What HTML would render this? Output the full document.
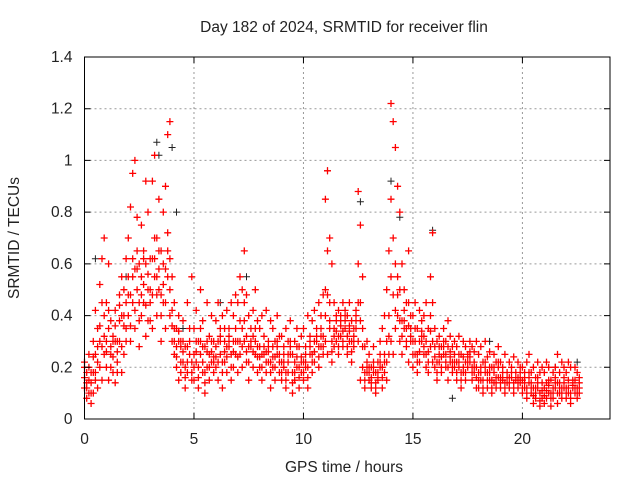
<!DOCTYPE html>
<html><head><meta charset="utf-8"><style>
body{margin:0;background:#fff;}
svg text{font-family:"Liberation Sans",sans-serif;fill:#222;}
</style></head><body>
<svg id="c" width="640" height="480" xmlns="http://www.w3.org/2000/svg">
<rect width="640" height="480" fill="#fff"/>
<text x="344" y="32" font-size="15.5" text-anchor="middle">Day 182 of 2024, SRMTID for receiver flin</text>
<g id="grid"></g>
<g id="marks"></g>
<rect x="84.5" y="57" width="525.5" height="362" fill="none" stroke="#000" stroke-width="1"/>
<g id="ticks"></g>
<text x="344" y="472" font-size="15.5" text-anchor="middle">GPS time / hours</text>
<text transform="translate(19,238) rotate(-90)" font-size="15.5" text-anchor="middle">SRMTID / TECUs</text>
</svg>
<script>
const xTicks=[0,5,10,15,20];
const yTicks=[0,0.2,0.4,0.6,0.8,1,1.2,1.4];
const yTickLabels=["0","0.2","0.4","0.6","0.8","1","1.2","1.4"];
const hours=[0.0,0.1,0.2,0.3,0.4,0.5,0.6,0.7,0.8,0.9,1.0,1.1,1.2,1.3,1.4,1.5,1.6,1.7,1.8,1.9,2.0,2.1,2.2,2.3,2.4,2.5,2.6,2.7,2.8,2.9,3.0,3.1,3.2,3.3,3.4,3.5,3.6,3.7,3.8,3.9,4.0,4.1,4.2,4.3,4.4,4.5,4.6,4.7,4.8,4.9,5.0,5.1,5.2,5.3,5.4,5.5,5.6,5.7,5.8,5.9,6.0,6.1,6.2,6.3,6.4,6.5,6.6,6.7,6.8,6.9,7.0,7.1,7.2,7.3,7.4,7.5,7.6,7.7,7.8,7.9,8.0,8.1,8.2,8.3,8.4,8.5,8.6,8.7,8.8,8.9,9.0,9.1,9.2,9.3,9.4,9.5,9.6,9.7,9.8,9.9,10.0,10.1,10.2,10.3,10.4,10.5,10.6,10.7,10.8,10.9,11.0,11.1,11.2,11.3,11.4,11.5,11.6,11.7,11.8,11.9,12.0,12.1,12.2,12.3,12.4,12.5,12.6,12.7,12.8,12.9,13.0,13.1,13.2,13.3,13.4,13.5,13.6,13.7,13.8,13.9,14.0,14.1,14.2,14.3,14.4,14.5,14.6,14.7,14.8,14.9,15.0,15.1,15.2,15.3,15.4,15.5,15.6,15.7,15.8,15.9,16.0,16.1,16.2,16.3,16.4,16.5,16.6,16.7,16.8,16.9,17.0,17.1,17.2,17.3,17.4,17.5,17.6,17.7,17.8,17.9,18.0,18.1,18.2,18.3,18.4,18.5,18.6,18.7,18.8,18.9,19.0,19.1,19.2,19.3,19.4,19.5,19.6,19.7,19.8,19.9,20.0,20.1,20.2,20.3,20.4,20.5,20.6,20.7,20.8,20.9,21.0,21.1,21.2,21.3,21.4,21.5,21.6,21.7,21.8,21.9,22.0,22.1,22.2,22.3,22.4,22.5,22.6];
const tecLow=[.12,.08,.15,.06,.10,.18,.12,.20,.15,.25,
.20,.15,.25,.18,.14,.22,.30,.18,.25,.35,
.40,.30,.45,.35,.50,.28,.40,.45,.32,.38,
.45,.35,.55,.40,.50,.30,.45,.35,.55,.40,
.30,.25,.20,.15,.28,.22,.12,.18,.25,.15,
.15,.22,.12,.25,.18,.10,.20,.15,.22,.18,
.20,.15,.25,.12,.22,.18,.28,.15,.20,.25,
.18,.25,.20,.30,.22,.15,.28,.20,.25,.18,
.20,.15,.25,.18,.22,.12,.20,.15,.25,.18,
.15,.20,.12,.18,.25,.10,.15,.20,.12,.18,
.15,.20,.12,.25,.18,.22,.30,.20,.28,.25,
.30,.25,.35,.22,.28,.30,.25,.32,.28,.35,
.25,.30,.22,.28,.35,.30,.15,.20,.12,.18,
.15,.12,.18,.10,.15,.20,.12,.18,.15,.25,
.30,.25,.35,.40,.30,.25,.35,.28,.22,.30,
.20,.25,.18,.22,.30,.25,.20,.18,.28,.22,
.20,.15,.22,.18,.25,.20,.15,.22,.18,.20,
.15,.20,.12,.18,.15,.20,.22,.15,.18,.12,
.12,.15,.10,.18,.12,.15,.10,.14,.12,.16,
.12,.15,.10,.14,.12,.18,.10,.15,.12,.14,
.10,.12,.08,.14,.10,.06,.08,.12,.05,.08,
.06,.08,.10,.05,.08,.12,.06,.10,.08,.12,
.08,.10,.06,.12,.10,.08,.10];
const tecMid=[.16,.12,.20,.10,.18,.25,.22,.30,.28,.40,
.30,.35,.28,.24,.30,.26,.38,.40,.36,.45,
.55,.48,.62,.58,.65,.45,.55,.52,.60,.50,
.50,.62,.70,.55,.65,.48,.60,.58,.72,.62,
.42,.35,.28,.30,.22,.30,.20,.28,.35,.22,
.25,.30,.20,.35,.28,.18,.30,.25,.30,.24,
.28,.30,.35,.22,.30,.28,.35,.25,.30,.35,
.30,.38,.35,.45,.32,.28,.30,.32,.35,.28,
.28,.25,.32,.26,.28,.22,.28,.24,.30,.25,
.22,.25,.18,.25,.30,.18,.22,.28,.20,.24,
.22,.25,.20,.30,.25,.30,.35,.28,.35,.32,
.50,.65,.45,.30,.35,.38,.32,.36,.34,.38,
.32,.36,.30,.32,.38,.60,.45,.35,.18,.22,
.20,.16,.22,.14,.18,.25,.20,.25,.30,.40,
.85,.70,.60,.55,.50,.38,.42,.35,.45,.35,
.30,.35,.25,.30,.34,.32,.30,.26,.40,.45,
.28,.22,.28,.24,.30,.25,.28,.26,.22,.25,
.22,.25,.18,.24,.22,.22,.26,.20,.22,.20,
.18,.20,.15,.22,.18,.20,.15,.20,.16,.22,
.16,.18,.14,.16,.16,.20,.14,.18,.16,.18,
.15,.16,.12,.18,.14,.12,.12,.16,.10,.14,
.12,.14,.15,.10,.12,.16,.14,.14,.12,.16,
.12,.15,.10,.14,.15,.12,.14];
const tecExtra=[.20,.14,.10,.18,.24,.15,.28,.36,.45,.32,
.26,.42,.20,.30,.36,.18,.44,.28,.40,.30,
.48,.36,.55,.42,.58,.38,.48,.62,.44,.56,
.38,.48,.62,.48,.58,.40,.52,.45,.65,.50,
.36,.30,.24,.34,.18,.26,.16,.22,.30,.18,
.20,.26,.16,.30,.22,.14,.26,.20,.26,.22,
.24,.22,.30,.18,.26,.24,.32,.20,.26,.30,
.24,.30,.28,.38,.26,.22,.35,.26,.30,.24,
.24,.20,.28,.22,.26,.18,.24,.20,.28,.22,
.18,.22,.15,.22,.28,.14,.18,.24,.16,.22,
.18,.22,.16,.28,.22,.26,.32,.24,.32,.28,
.40,.48,.38,.26,.32,.34,.28,.40,.30,.42,
.28,.34,.26,.30,.40,.45,.38,.28,.15,.20,
.18,.14,.20,.12,.16,.22,.16,.22,.22,.32,
.55,.48,.42,.48,.38,.32,.38,.30,.36,.32,
.25,.30,.22,.26,.32,.28,.25,.22,.34,.30,
.24,.18,.25,.20,.28,.22,.20,.24,.20,.22,
.18,.22,.15,.20,.18,.24,.24,.18,.20,.16,
.15,.18,.12,.20,.15,.18,.12,.18,.14,.20,
.14,.16,.12,.18,.14,.16,.12,.16,.14,.16,
.12,.14,.10,.16,.12,.09,.10,.14,.07,.11,
.09,.11,.13,.08,.10,.14,.10,.12,.10,.14,
.10,.12,.08,.13,.12,.10,.12];
const tecHigh=[.22,.18,.25,.14,.30,.42,.35,.52,.62,.70,
.45,.60,.38,.32,.42,.30,.48,.55,.50,.62,
.70,.82,.95,1.00,.78,.60,.75,.65,.92,.80,
.62,.92,1.02,.70,.85,.65,.80,.90,1.10,1.15,
.55,.45,.35,.40,.30,.38,.28,.45,.25,.55,
.35,.42,.30,.50,.38,.28,.45,.32,.40,.30,
.38,.45,.32,.40,.35,.42,.30,.45,.40,.48,
.45,.55,.50,.65,.48,.40,.35,.42,.50,.38,
.35,.40,.32,.42,.30,.38,.35,.30,.40,.32,
.32,.28,.35,.30,.38,.25,.30,.35,.28,.32,
.35,.28,.40,.32,.38,.42,.35,.45,.40,.48,
.85,.96,.70,.60,.45,.40,.42,.38,.45,.40,
.40,.45,.38,.35,.42,.88,.75,.55,.28,.30,
.25,.20,.28,.18,.22,.30,.35,.40,.50,.65,
1.22,1.15,1.05,.90,.80,.60,.50,.45,.65,.40,
.40,.45,.35,.42,.38,.40,.45,.35,.55,.72,
.35,.30,.32,.28,.35,.30,.38,.32,.28,.30,
.28,.32,.25,.30,.28,.25,.30,.28,.26,.30,
.25,.28,.22,.30,.24,.26,.20,.25,.22,.28,
.22,.20,.25,.18,.22,.20,.24,.18,.22,.20,
.20,.18,.22,.25,.18,.20,.16,.22,.18,.20,
.18,.22,.20,.15,.18,.20,.25,.18,.22,.20,
.18,.22,.20,.15,.20,.18,.16];
const blackHours=[0.5,1.9,3.3,3.4,4.0,4.2,4.5,6.2,7.4,11.1,12.6,14.0,14.4,15.9,16.8,18.5,21.5,22.5];
const blackTec=[0.62,0.55,1.07,1.02,1.05,0.80,0.35,0.45,0.55,0.96,0.84,0.92,0.78,0.73,0.08,0.30,0.20,0.22];

const X0=84.5,X1=610,Y0=419,Y1=57;
function xs(h){return X0+(h/24)*(X1-X0);}
function ys(v){return Y0-(v/1.4)*(Y0-Y1);}
const NS='http://www.w3.org/2000/svg';
const grid=document.getElementById('grid'),ticks=document.getElementById('ticks'),marks=document.getElementById('marks');
function mk(tag,attrs,parent){const e=document.createElementNS(NS,tag);for(const k in attrs)e.setAttribute(k,attrs[k]);parent.appendChild(e);return e;}
xTicks.forEach(t=>{
  const x=xs(t);
  if(t>0){const g=mk('line',{x1:x,x2:x,y1:Y0,y2:Y1,stroke:'#999','stroke-dasharray':'2,3'},grid);
  
  }
  const tk=mk('path',{d:`M${x},${Y0}v-6M${x},${Y1}v6`,stroke:'#000'},ticks);
  
  
  const lb=mk('text',{x:x,y:Y0+25,'font-size':'15.5','text-anchor':'middle'},ticks);lb.textContent=String(t);
  
  
});
yTicks.forEach((t,i)=>{
  const y=ys(t);
  if(t>0&&t<1.4){const g=mk('line',{x1:X0,x2:X1,y1:y,y2:y,stroke:'#999','stroke-dasharray':'2,3'},grid);
  
  }
  const tk=mk('path',{d:`M${X0},${y}h6M${X1},${y}h-6`,stroke:'#000'},ticks);
  
  
  const lb=mk('text',{x:X0-12,y:y+5,'font-size':'15.5','text-anchor':'end'},ticks);lb.textContent=yTickLabels[i];
  
  
});
function plus(h,v){const x=xs(h),y=ys(v);return `M${(x-3.5).toFixed(1)},${y.toFixed(1)}h7M${x.toFixed(1)},${(y-3.5).toFixed(1)}v7`;}
let db='';blackHours.forEach((h,i)=>{db+=plus(h,blackTec[i]);});
const pb=mk('path',{d:db,stroke:'#222','stroke-width':'1',fill:'none'},marks);


let dr='';
[tecLow,tecMid,tecExtra,tecHigh].forEach(s=>{hours.forEach((h,i)=>{if(s[i]!==undefined)dr+=plus(h,s[i]);});});
const pr=mk('path',{d:dr,stroke:'#f00','stroke-width':'1.3',fill:'none'},marks);


</script>
</body></html>
